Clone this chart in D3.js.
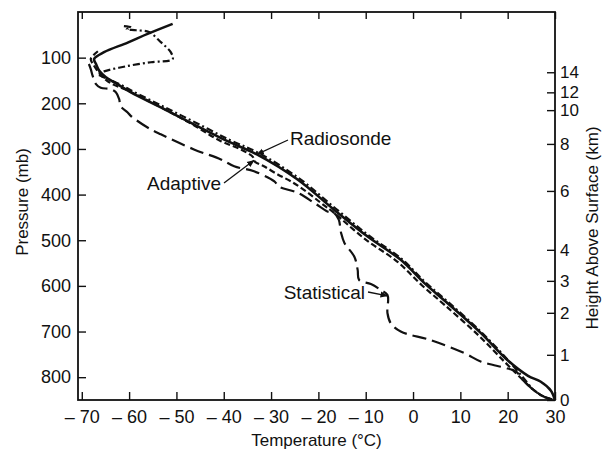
<!DOCTYPE html>
<html>
<head>
<meta charset="utf-8">
<script src="https://cdn.jsdelivr.net/npm/d3@7/dist/d3.min.js"></script>
<style>
  body { margin: 0; background: #fff; }
  svg { display: block; font-family: "Liberation Sans", Arial, sans-serif; }
</style>
</head>
<body>
<div id="chart"></div>
<script>
// profiles as [temperature °C, pressure mb]
const radiosonde = [
  [-50.8, 26], [-56.1, 48], [-60.3, 67], [-65.3, 88], [-67.4, 103], [-67.0, 114],
  [-66.3, 129], [-64.9, 143], [-62.5, 158], [-59.6, 176], [-53.3, 209], [-46.3, 246],
  [-39.2, 283], [-33.0, 312], [-24.4, 367], [-16.7, 433], [-9.6, 492], [-2.6, 543],
  [2.4, 594], [7.3, 638], [14.4, 704], [20.0, 763], [24.3, 797], [27.0, 810],
  [29.1, 829], [30, 850]
];
const adaptive = [
  [-66.6, 86], [-68.1, 103], [-67.5, 116], [-66.0, 138], [-63.9, 156], [-60.7, 170],
  [-53.8, 206], [-47.0, 244], [-40.6, 283], [-36.4, 301], [-33.8, 318], [-33.4, 328],
  [-31.5, 338], [-28.6, 356], [-25.8, 371], [-22.6, 393], [-19.5, 418], [-16.7, 440],
  [-10.2, 497], [-3.2, 548], [1.8, 598], [6.7, 642], [13.8, 708], [19.5, 768],
  [23.2, 806], [25.6, 829], [27.7, 843], [30, 850]
];
const statistical = [
  [-68.5, 114], [-68.1, 125], [-67.7, 140], [-67.0, 158], [-66.0, 166], [-63.9, 169],
  [-62.8, 176], [-62.1, 191], [-61.8, 206], [-60.3, 220], [-59.6, 228], [-56.1, 253],
  [-53.3, 268], [-46.3, 301], [-40.6, 323], [-37.8, 338], [-33.6, 349], [-29.3, 371],
  [-28.4, 382], [-24.4, 396], [-20.9, 418], [-18.1, 437], [-16.7, 440], [-15.7, 455],
  [-15.2, 484], [-14.5, 506], [-12.4, 536], [-11.7, 565], [-11.4, 587], [-8.9, 596],
  [-6.8, 609], [-5.4, 620], [-5.4, 660], [-4.7, 682], [-2.6, 700], [3.8, 719],
  [10.8, 747], [14.4, 766], [20.0, 781], [21.8, 788], [23.2, 806], [25.6, 829],
  [27.7, 843], [30, 850]
];
const dashDot = [
  [-61.1, 31], [-59.6, 34], [-60.5, 38], [-58.5, 40], [-55.8, 44], [-53.3, 66],
  [-51.2, 88], [-50.8, 103], [-55.4, 110], [-60.7, 119], [-65.3, 130], [-66.6, 136],
  [-64.6, 146], [-62.0, 158], [-59.0, 175], [-52.8, 207], [-45.8, 243], [-38.8, 280],
  [-32.6, 309], [-24.0, 365], [-16.3, 431], [-9.3, 490], [-2.4, 541], [2.6, 592],
  [7.5, 636], [14.5, 702], [20.0, 762], [23.2, 800], [25.6, 829], [27.7, 843], [30, 850]
];

const tempTicks = [-70, -60, -50, -40, -30, -20, -10, 0, 10, 20, 30];
const pressureTicks = [100, 200, 300, 400, 500, 600, 700, 800];
const heightKm = [0, 1, 2, 3, 4, 6, 8, 10, 12, 14];
const heightMb = [850, 751, 659, 589, 521, 392, 289, 215, 176, 132];

const width = 605, height = 453;
const margin = { top: 12, right: 50, bottom: 53, left: 78 };

const x = d3.scaleLinear().domain([-70.8, 30]).range([margin.left, width - margin.right]);
const y = d3.scaleLinear().domain([0, 850]).range([margin.top, height - margin.bottom]);

const svg = d3.select("#chart").append("svg")
  .attr("width", width)
  .attr("height", height);

const ink = "#111";

// axes: all ticks point into the frame
const fmtT = d => d < 0 ? "\u2013 " + Math.abs(d) : String(d);

const gBottom = svg.append("g")
  .attr("transform", `translate(0,${y(850)})`)
  .call(d3.axisBottom(x).tickValues(tempTicks).tickSize(-8).tickPadding(10).tickFormat(fmtT));

const gTop = svg.append("g")
  .attr("transform", `translate(0,${y(0)})`)
  .call(d3.axisTop(x).tickValues(tempTicks).tickSize(-7).tickFormat(""));

const gLeft = svg.append("g")
  .attr("transform", `translate(${x(-70.8)},0)`)
  .call(d3.axisLeft(y).tickValues(pressureTicks).tickSize(-8).tickPadding(7));

const gRight = svg.append("g")
  .attr("transform", `translate(${x(30)},0)`)
  .call(d3.axisRight(y).tickValues(heightMb).tickSize(-8).tickPadding(5)
    .tickFormat((d, i) => heightKm[i]));

[gBottom, gTop, gLeft, gRight].forEach(g => {
  g.select(".domain").remove();
  g.selectAll(".tick line").attr("stroke", ink).attr("stroke-width", 1.4);
  g.selectAll(".tick text").attr("fill", ink).style("font-size", "18px");
});
// the upper height labels sit close together
gRight.selectAll(".tick text").style("font-size", "17px");

// frame
svg.append("rect")
  .attr("x", x(-70.8)).attr("y", y(0))
  .attr("width", x(30) - x(-70.8)).attr("height", y(850) - y(0))
  .attr("fill", "none").attr("stroke", ink).attr("stroke-width", 1.8);

// axis titles
svg.append("text")
  .attr("transform", `translate(28,${(y(0) + y(850)) / 2 - 4}) rotate(-90)`)
  .attr("text-anchor", "middle")
  .style("font-size", "17px").attr("fill", ink)
  .text("Pressure (mb)");

svg.append("text")
  .attr("x", (x(-70.8) + x(30)) / 2).attr("y", 446)
  .attr("text-anchor", "middle")
  .style("font-size", "17px").attr("fill", ink)
  .text("Temperature (\u00b0C)");

svg.append("text")
  .attr("transform", `translate(598,${(y(0) + y(850)) / 2 + 22}) rotate(-90)`)
  .attr("text-anchor", "middle")
  .style("font-size", "17px").attr("fill", ink)
  .text("Height Above Surface (km)");

// profiles
const line = d3.line()
  .x(d => x(d[0]))
  .y(d => y(d[1]))
  .curve(d3.curveCatmullRom.alpha(0.5));

const plot = svg.append("g").attr("fill", "none").attr("stroke", ink)
  .attr("stroke-linecap", "butt").attr("stroke-linejoin", "round");

plot.append("path").datum(statistical)
  .attr("d", line).attr("stroke-width", 2.2).attr("stroke-dasharray", "14 6");

plot.append("path").datum(dashDot)
  .attr("d", line).attr("stroke-width", 2.2).attr("stroke-dasharray", "7 3 2 3");

plot.append("path").datum(adaptive)
  .attr("d", line).attr("stroke-width", 2.2).attr("stroke-dasharray", "6 3");

plot.append("path").datum(radiosonde)
  .attr("d", line).attr("stroke-width", 2.6);

// labels with pointers
svg.append("defs").append("marker")
  .attr("id", "head")
  .attr("viewBox", "0 0 10 10")
  .attr("refX", 9).attr("refY", 5)
  .attr("markerWidth", 6).attr("markerHeight", 6)
  .attr("orient", "auto")
  .append("path").attr("d", "M0,1 L10,5 L0,9 Z").attr("fill", ink);

const notes = [
  { text: "Radiosonde", at: [-33.0, 312], tx: 290, ty: 145, anchor: "start", from: [288, 140] },
  { text: "Adaptive", at: [-33.6, 325], tx: 221, ty: 190, anchor: "end", from: [224, 183] },
  { text: "Statistical", at: [-5.4, 622], tx: 365, ty: 299, anchor: "end", from: [368, 292] }
];

notes.forEach(n => {
  svg.append("line")
    .attr("x1", n.from[0]).attr("y1", n.from[1])
    .attr("x2", x(n.at[0])).attr("y2", y(n.at[1]))
    .attr("stroke", ink).attr("stroke-width", 1.3)
    .attr("marker-end", "url(#head)");
  svg.append("text")
    .attr("x", n.tx).attr("y", n.ty)
    .attr("text-anchor", n.anchor)
    .style("font-size", "19px").attr("fill", ink)
    .text(n.text);
});
</script>
</body>
</html>
